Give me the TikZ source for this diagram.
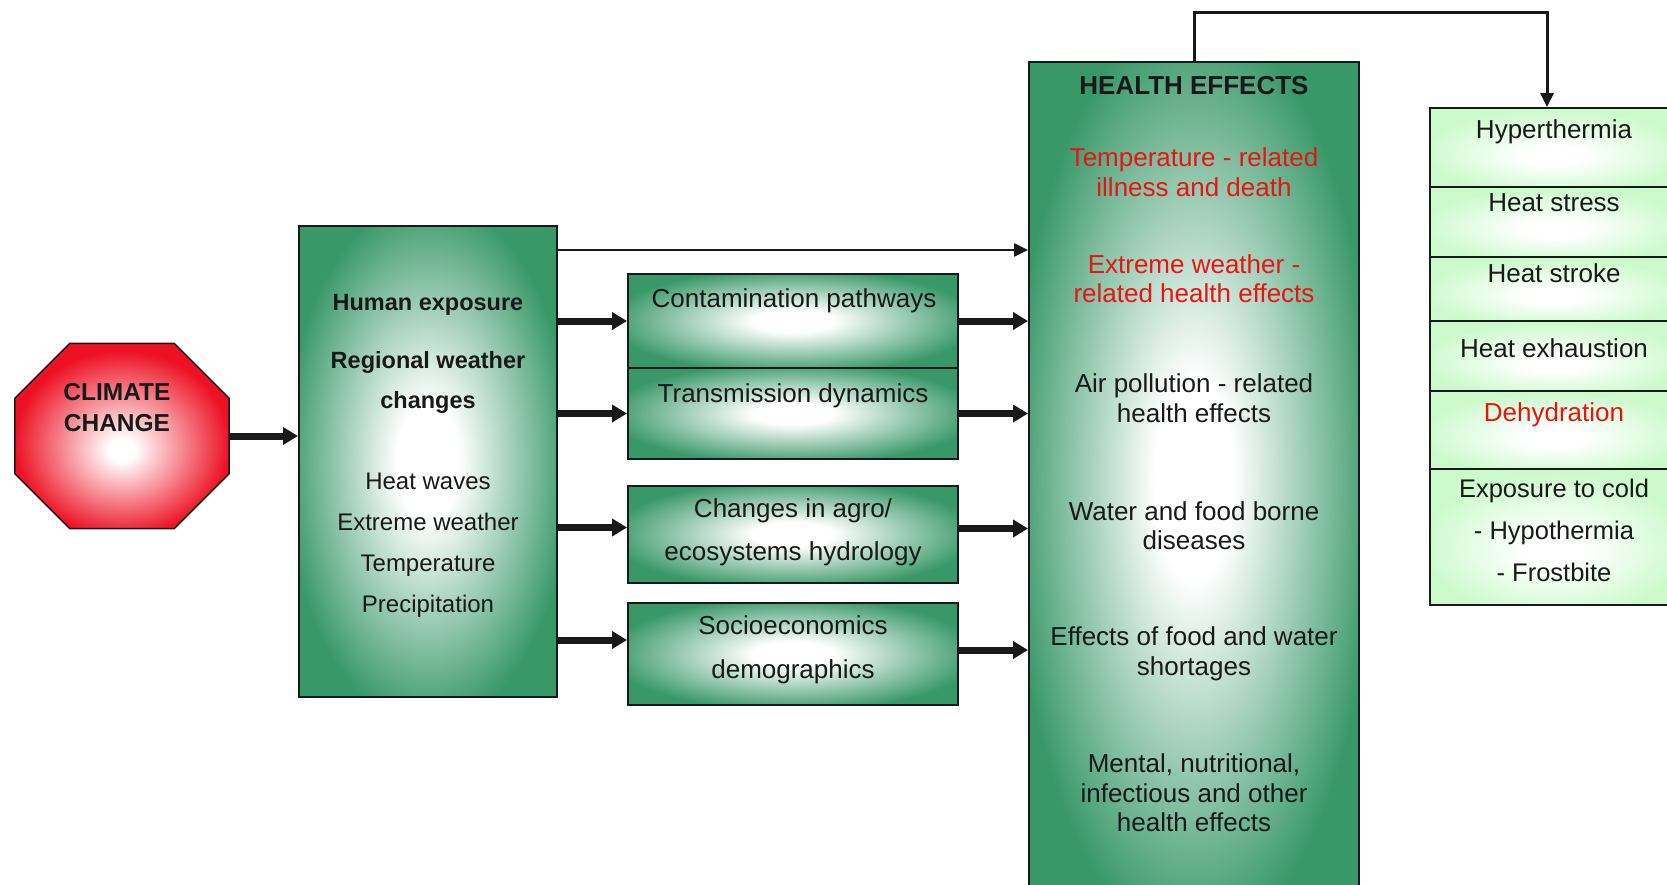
\documentclass[tikz,border=0pt]{standalone}
\usepackage{fontspec}
\setmainfont{Liberation Sans}
\usetikzlibrary{arrows.meta,positioning}

\definecolor{boxgreen}{RGB}{56,152,104}
\definecolor{mint}{RGB}{204,250,204}
\definecolor{stopred}{RGB}{236,18,36}
\definecolor{alertred}{RGB}{232,20,20}
\definecolor{inkgray}{RGB}{25,25,25}

\pgfdeclareradialshading{glowgreen}{\pgfpoint{0bp}{0bp}}{color(0bp)=(white); color(6bp)=(white); color(28bp)=(boxgreen); color(50bp)=(boxgreen)}
\pgfdeclareradialshading{glowred}{\pgfpoint{0bp}{-4bp}}{color(0bp)=(white); color(3bp)=(white); color(25bp)=(stopred); color(50bp)=(stopred)}
\pgfdeclareradialshading{glowmint}{\pgfpoint{0bp}{-6bp}}{color(0bp)=(white); color(6bp)=(white); color(27bp)=(mint); color(50bp)=(mint)}

\tikzset{
  greenbox/.style={draw=inkgray, line width=2pt, shade, shading=glowgreen, inner sep=0pt, minimum width=330pt},
  mintbox/.style={draw=inkgray, line width=1.8pt, shade, shading=glowmint, inner sep=0pt, minimum width=248pt},
  txt/.style={align=center, text=inkgray, inner sep=0pt, font=\fontsize{26}{29.5}\selectfont},
  redtxt/.style={txt, text=alertred},
  fatarrow/.style={draw=inkgray, line width=7pt, -{Triangle[length=15pt,width=17pt]}},
  thinarrow/.style={draw=inkgray, line width=3pt, -{Triangle[length=14pt,width=13pt]}},
}

\begin{document}
\begin{tikzpicture}[x=1pt, y=-1pt]
\useasboundingbox (0,0) rectangle (1667,885);
\clip (0,0) rectangle (1667,885);

% climate change octagon
\node[minimum width=214pt, minimum height=185pt, inner sep=0pt] (climate) at (122,436) {};
\shade[shading=glowred, draw=inkgray, line width=1.5pt]
  ([xshift=55pt]climate.north west) -- ([xshift=-55pt]climate.north east)
  -- ([yshift=-55pt]climate.north east) -- ([yshift=55pt]climate.south east)
  -- ([xshift=-55pt]climate.south east) -- ([xshift=55pt]climate.south west)
  -- ([yshift=55pt]climate.south west) -- ([yshift=-55pt]climate.north west) -- cycle;
\node[txt, font=\bfseries\fontsize{24.5}{31}\selectfont] (climatetext) at (117,408) {CLIMATE\\CHANGE};

% exposure box
\node[greenbox, minimum width=258pt, minimum height=471pt] (exposure) at (428,461.5) {};
\node[txt, font=\bfseries\fontsize{23.5}{40}\selectfont] (exposurehead) at (428,354) {Human exposure\\[17.5pt]Regional weather\\changes};
\node[txt, font=\fontsize{24}{41}\selectfont] (exposurelist) at (428,545) {Heat waves\\Extreme weather\\Temperature\\Precipitation};

% pathways
\node[greenbox, minimum height=94pt] (contam) at (793,321) {};
\node[greenbox, minimum height=91pt] (transmit) at (793,413.5) {};
\node[greenbox, minimum height=97pt] (agro) at (793,534.5) {};
\node[greenbox, minimum height=102pt] (socio) at (793,654) {};
\node[txt] (contamtext) at (794,301) {Contamination pathways};
\node[txt] (transmittext) at (793,395.5) {Transmission dynamics};
\node[txt, font=\fontsize{26}{43}\selectfont] (agrotext) at (793,532.5) {Changes in agro/\\ecosystems hydrology};
\node[txt, font=\fontsize{26}{44}\selectfont] (sociotext) at (793,650) {Socioeconomics\\demographics};

% health effects
\node[greenbox, minimum height=835pt] (health) at (1194,479.5) {};
\node[txt, font=\bfseries\fontsize{26}{30}\selectfont] (healthtitle) at (1194,86) {HEALTH EFFECTS};
\node[redtxt] (tempeff) at (1194,172) {Temperature - related\\illness and death};
\node[redtxt] (extremeeff) at (1194,278.5) {Extreme weather -\\related health effects};
\node[txt] (aireff) at (1194,398) {Air pollution - related\\health effects};
\node[txt] (watereff) at (1194,525.5) {Water and food borne\\diseases};
\node[txt] (shortageeff) at (1194,654) {Effects of food and water\\shortages};
\node[txt] (mentaleff) at (1194,793) {Mental, nutritional,\\infectious and other\\health effects};

% heat and cold list
\node[mintbox, minimum height=79pt] (hyperbox) at (1554,147.5) {};
\node[mintbox, minimum height=70pt] (stressbox) at (1554,222) {};
\node[mintbox, minimum height=64pt] (strokebox) at (1554,289) {};
\node[mintbox, minimum height=70pt] (exhaustbox) at (1554,356) {};
\node[mintbox, minimum height=78pt] (dehydbox) at (1554,430) {};
\node[mintbox, minimum height=136pt] (coldbox) at (1554,537) {};
\node[txt] (hyper) at (1554,132) {Hyperthermia};
\node[txt] (stress) at (1554,203) {Heat stress};
\node[txt] (stroke) at (1554,273) {Heat stroke};
\node[txt] (exhaust) at (1554,348) {Heat exhaustion};
\node[redtxt] (dehyd) at (1554,415) {Dehydration};
\node[txt, font=\fontsize{25.5}{42}\selectfont] (cold) at (1554,530) {Exposure to cold\\- Hypothermia\\- Frostbite};

% connectors
\draw[fatarrow] (climate.east) -- (climate.east -| exposure.west);
\coordinate (topin) at (health.west |- 0,250);
\draw[thinarrow, line width=2.5pt] (exposure.east |- topin) -- (topin);
\draw[fatarrow] (exposure.east |- contam.west) -- (contam.west);
\draw[fatarrow] (exposure.east |- transmit.west) -- (transmit.west);
\coordinate (agroin) at ([yshift=7pt]agro.west);
\draw[fatarrow] (exposure.east |- agroin) -- (agroin);
\coordinate (socioin) at ([yshift=14pt]socio.west);
\draw[fatarrow] (exposure.east |- socioin) -- (socioin);
\draw[fatarrow] (contam.east) -- (contam.east -| health.west);
\draw[fatarrow] (transmit.east) -- (transmit.east -| health.west);
\coordinate (agroout) at ([yshift=6pt]agro.east);
\draw[fatarrow] (agroout) -- (agroout -| health.west);
\coordinate (socioout) at ([yshift=4pt]socio.east);
\draw[fatarrow] (socioout) -- (socioout -| health.west);
\draw[thinarrow] (health.north) -- ++(0,-48) -| ([xshift=-7pt]hyperbox.north);
\end{tikzpicture}
\end{document}
